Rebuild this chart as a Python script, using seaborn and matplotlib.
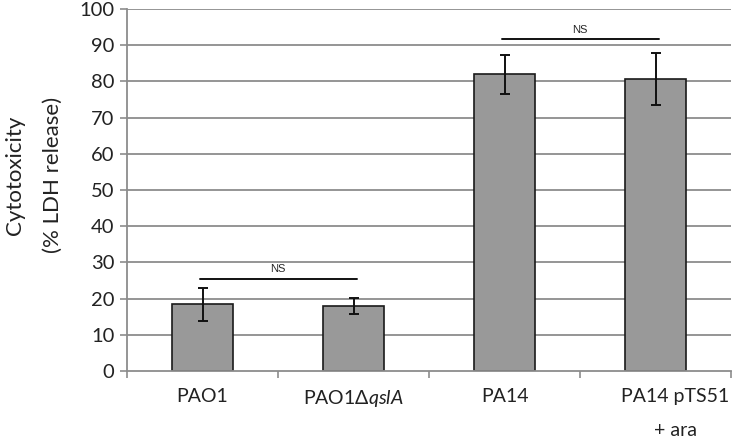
import numpy as np
import pandas as pd
import matplotlib
matplotlib.use("Agg")
import matplotlib.pyplot as plt
import seaborn as sns

# данные
strains = ["PAO1", "PAO1$\\Delta\\mathit{qslA}$", "PA14", "PA14 pTS51\n\n+ ara"]
cytotox = [18.4, 18.0, 82.0, 80.7]
sd = [4.6, 2.3, 5.4, 7.1]
ns_pairs = [(0, 1, 25.5), (2, 3, 91.7)]

sns.set_style("white")
plt.rcParams["font.family"] = ["Lato", "DejaVu Sans"]
plt.rcParams["mathtext.fontset"] = "custom"
plt.rcParams["mathtext.rm"] = "Lato"
plt.rcParams["mathtext.it"] = "Lato:italic"

df = pd.DataFrame({"strain": strains, "cytotox": cytotox})

fig = plt.figure(figsize=(7.33, 4.44), dpi=100)
ax = fig.add_axes([0.1733, 0.1644, 0.8240, 0.8153])

# сетка
for y in range(10, 101, 10):
    ax.axhline(y, color="#8c8c8c", lw=1.3, zorder=0)

sns.barplot(data=df, x="strain", y="cytotox", color="#999999", width=0.4,
            edgecolor="#1a1a1a", linewidth=1.2, saturation=1, errorbar=None,
            ax=ax, zorder=2)
ax.errorbar(np.arange(len(strains)), cytotox, yerr=sd, fmt="none",
            ecolor="#111111", elinewidth=1.4, capsize=3.8, capthick=1.4, zorder=3)

# NS линии
for a, b, y in ns_pairs:
    ax.plot([a - 0.02, b + 0.02], [y, y], color="#111111", lw=1.4, zorder=3)
    ax.text((a + b) / 2, y + 1.2, "NS", ha="center", va="bottom",
            fontsize=8, family="Liberation Sans")

ax.set_xlim(-0.5, 3.5)
ax.set_ylim(0, 100)
ax.set_yticks(range(0, 101, 10))
ax.tick_params(axis="y", labelsize=14.5, length=5, width=1.2, color="#8c8c8c",
               left=True, pad=4, labelcolor="#222222")
# последняя подпись в оригинале сдвинута вправо
ax.set_xticks([0, 1, 2, 3.13])
ax.set_xticklabels(strains, fontsize=14, color="#222222", linespacing=1.0)
ax.tick_params(axis="x", length=0, pad=12)
ax.set_xticks(np.arange(-0.5, 4, 1), minor=True)
ax.tick_params(axis="x", which="minor", length=5, width=1.2, color="#8c8c8c",
               bottom=True)

for s in ["top", "right"]:
    ax.spines[s].set_visible(False)
for s in ["left", "bottom"]:
    ax.spines[s].set_color("#8c8c8c")
    ax.spines[s].set_linewidth(1.3)

ax.set_xlabel("")
ax.set_ylabel("")
fig.text(34 / 733, 1 - 175 / 444, "Cytotoxicity\n(% LDH release)", rotation=90,
         ha="center", va="center", fontsize=16, linespacing=2.1,
         color="#222222")

fig.savefig("out.png", dpi=100)
